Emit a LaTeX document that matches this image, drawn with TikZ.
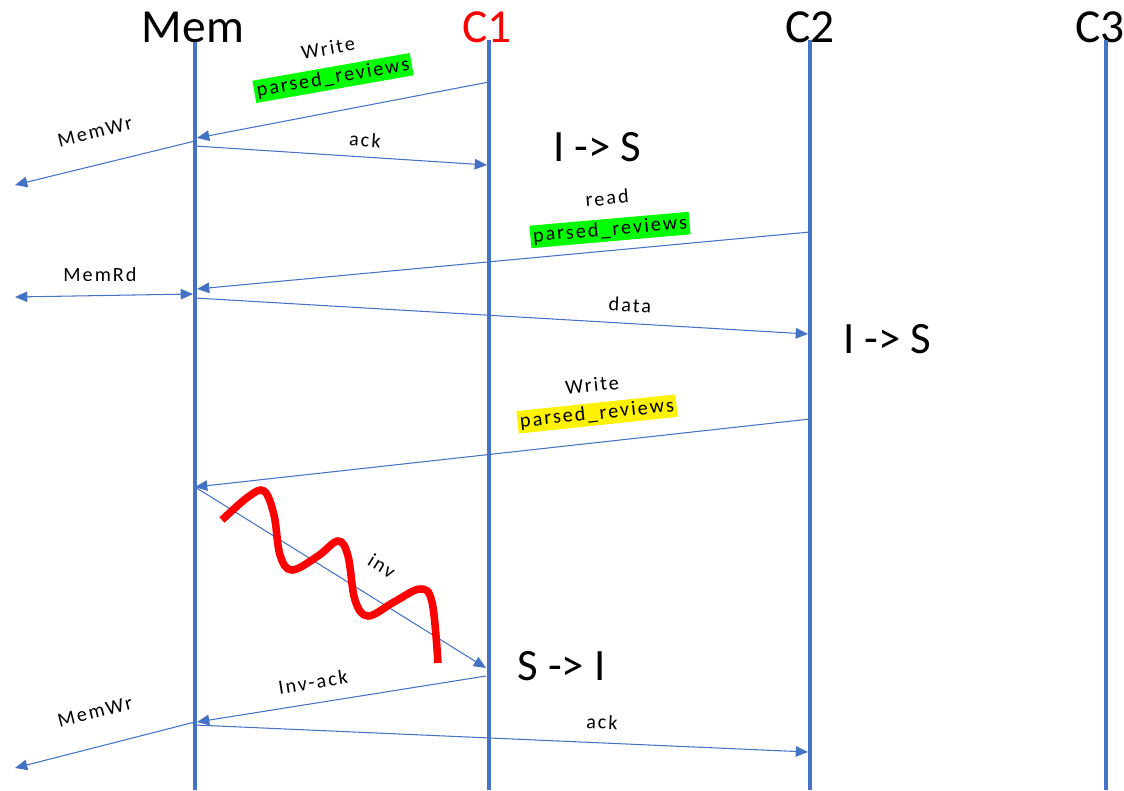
\documentclass[tikz,border=0pt]{standalone}
\usepackage{fontspec}
\setmainfont{Carlito}
\newfontfamily\lblfont[LetterSpace=10]{Carlito}
\usetikzlibrary{arrows.meta}
\definecolor{lineblue}{HTML}{4472C4}
\tikzset{
  lifeline/.style={draw=lineblue, line width=2pt},
  msg/.style={draw=lineblue, line width=0.6pt, -{Triangle[length=7pt,width=6pt]}},
  hdr/.style={font=\fontsize{27}{30}\selectfont, inner sep=0pt, anchor=base},
  state/.style={font=\fontsize{25.5}{28}\selectfont, inner sep=0pt, anchor=base west},
  lbl/.style={font=\lblfont\fontsize{11.5}{13}\selectfont, inner sep=1pt},
  hl/.style={lbl, fill=#1, inner sep=1.5pt}
}
\begin{document}
\begin{tikzpicture}[x=0.02cm, y=-0.02cm]
  \useasboundingbox (0,0) rectangle (1124,790);
  % 생명선
  \node[hdr] (mem) at (193,43) {Mem};
  \node[hdr, text=red] (c1) at (487,43) {C1};
  \node[hdr] (c2) at (810,43) {C2};
  \node[hdr] (c3) at (1100,43) {C3};
  \coordinate (memT) at (195,42);  \coordinate (memB) at (195,790);
  \coordinate (c1T) at (489,40);   \coordinate (c1B) at (489,790);
  \coordinate (c2T) at (810,40);   \coordinate (c2B) at (810,790);
  \coordinate (c3T) at (1106,40);  \coordinate (c3B) at (1106,790);
  \draw[lifeline] (memT) -- (memB);
  \draw[lifeline] (c1T) -- (c1B);
  \draw[lifeline] (c2T) -- (c2B);
  \draw[lifeline] (c3T) -- (c3B);
  % 메시지 끝점
  \coordinate (w1s) at (489,82);   \coordinate (w1e) at (197,138);
  \coordinate (mw1s) at (195,141); \coordinate (mw1e) at (15,185);
  \coordinate (a1s) at (195,146);  \coordinate (a1e) at (487,165);
  \coordinate (rds) at (810,232);  \coordinate (rde) at (197,289);
  \coordinate (mrL) at (15,297);   \coordinate (mrR) at (193,294);
  \coordinate (dts) at (195,298);  \coordinate (dte) at (808,334);
  \coordinate (w2s) at (810,419);  \coordinate (w2e) at (195,487);
  \coordinate (ivs) at (195,487);  \coordinate (ive) at (486,668);
  \coordinate (ias) at (486,676);  \coordinate (iae) at (197,722);
  \coordinate (mw2s) at (195,722); \coordinate (mw2e) at (15,768);
  \coordinate (a2s) at (195,725);  \coordinate (a2e) at (808,752);
  % 화살표
  \draw[msg] (w1s) -- (w1e);
  \draw[msg] (mw1s) -- (mw1e);
  \draw[msg] (a1s) -- (a1e);
  \draw[msg] (rds) -- (rde);
  \draw[msg, {Triangle[length=7pt,width=6pt]}-{Triangle[length=7pt,width=6pt]}] (mrL) -- (mrR);
  \draw[msg] (dts) -- (dte);
  \draw[msg] (w2s) -- (w2e);
  \draw[msg] (ivs) -- (ive);
  \draw[msg] (ias) -- (iae);
  \draw[msg] (mw2s) -- (mw2e);
  \draw[msg] (a2s) -- (a2e);
  % 라벨
  \node[lbl, rotate=10] (lw1) at (328,48) {Write};
  \node[hl=green, rotate=10] (lp1) at (333,78) {parsed\_reviews};
  \node[lbl, rotate=14] (lmw1) at (95,132) {MemWr};
  \node[lbl, rotate=-4] (la1) at (365,140) {ack};
  \node[lbl, rotate=5] (lrd) at (607,198) {read};
  \node[hl=green, rotate=5] (lp2) at (610,230) {parsed\_reviews};
  \node[lbl] (lmr) at (100,275) {MemRd};
  \node[lbl, rotate=-3] (ldt) at (630,305) {data};
  \node[lbl, rotate=6] (lw2) at (592,385) {Write};
  \node[hl=yellow, rotate=6] (lp3) at (597,414) {parsed\_reviews};
  \node[lbl, rotate=-32] (liv) at (382,566) {inv};
  \node[lbl, rotate=9] (lia) at (313,682) {Inv-ack};
  \node[lbl, rotate=14] (lmw2) at (95,712) {MemWr};
  \node[lbl, rotate=-2.5] (la2) at (602,722) {ack};
  % 상태 변화
  \node[state] (s1) at (553,162) {I -> S};
  \node[state] (s2) at (843,353) {I -> S};
  \node[state] (s3) at (517,680) {S -> I};
  % 끊김 표시
  \draw[red, line width=4.3pt] plot[smooth, tension=0.6] coordinates {(222,520) (248,497) (264,491) (274,515) (280,555) (292,570) (318,556) (338,541) (348,556) (355,600) (368,616) (394,602) (420,589) (432,602) (438,663)};
\end{tikzpicture}
\end{document}
